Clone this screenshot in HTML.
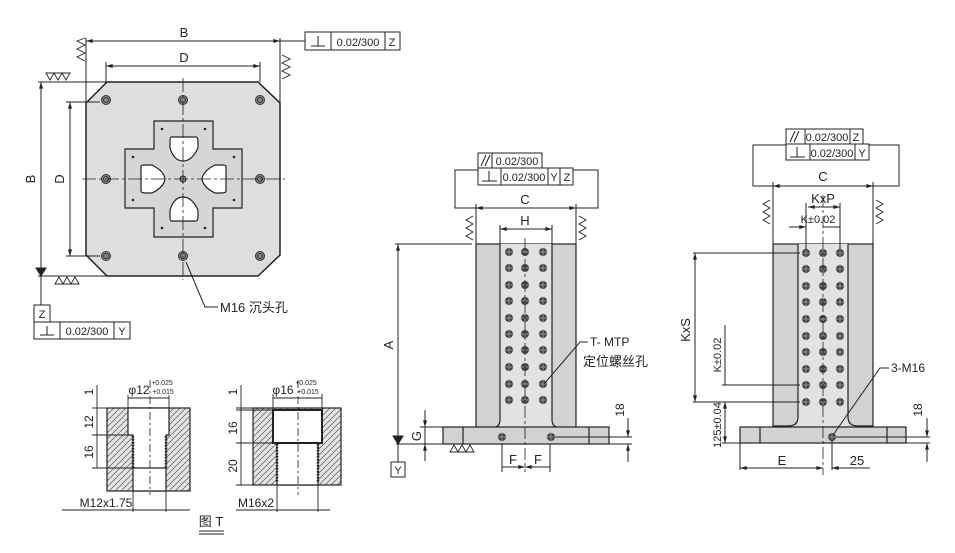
<!DOCTYPE html>
<html><head><meta charset="utf-8"><style>
html,body{margin:0;padding:0;background:#fff;}
svg{display:block;font-family:"Liberation Sans","Noto Sans CJK SC",sans-serif;}
</style></head><body>
<svg width="955" height="553" viewBox="0 0 955 553" xmlns="http://www.w3.org/2000/svg">
<defs>
<marker id="a" viewBox="0 0 10 6" refX="10" refY="3" markerWidth="8" markerHeight="4" orient="auto-start-reverse"><path d="M0,0L10,3L0,6z" fill="#222"/></marker>
<pattern id="h" width="6" height="6" patternUnits="userSpaceOnUse"><rect width="6" height="6" fill="#e4e4e4"/><path d="M-1,7L7,-1M-1,1L1,-1M5,7L7,5" stroke="#555" stroke-width="0.7"/></pattern>
<g id="hole"><circle r="4.5" fill="#888" stroke="#333" stroke-width="1"/><circle r="2.5" fill="none" stroke="#222" stroke-width="0.8"/></g>
<g id="dh"><circle r="4" fill="#444"/><line x1="-5" y1="0" x2="5" y2="0" stroke="#bbb" stroke-width="0.6"/><line x1="0" y1="-5" x2="0" y2="5" stroke="#bbb" stroke-width="0.6"/></g>
</defs>
<g stroke="#222" fill="none" stroke-width="1" font-size="12" >

<!-- ===== Top-left plate ===== -->
<path d="M107,82H258L280,103V255L258,276H107L86,255V103Z" fill="#dedede" stroke-width="1.5"/>
<path d="M154,121H213V149H242V208H213V237H154V208H125V149H154Z" fill="#d6d6d6" stroke-width="1.2"/>
<g fill="#fff" stroke-width="1.2">
<path d="M171,137H196Q198,137 198,142V148Q192,161 183,161Q174,161 170,148V142Q170,137 171,137Z"/>
<path d="M171,221H196Q198,221 198,216V210Q192,197 183,197Q174,197 170,210V216Q170,221 171,221Z"/>
<path d="M141,166V191Q141,193 146,193H152Q164,187 165,179Q164,171 152,165H146Q141,165 141,166Z"/>
<path d="M226,166V191Q226,193 221,193H215Q203,187 202,179Q203,171 215,165H221Q226,165 226,166Z"/>
</g>
<g fill="#222" stroke="none">
<circle cx="162" cy="129" r="1.3"/><circle cx="205" cy="129" r="1.3"/><circle cx="162" cy="228" r="1.3"/><circle cx="205" cy="228" r="1.3"/>
<circle cx="133" cy="157" r="1.3"/><circle cx="234" cy="157" r="1.3"/><circle cx="133" cy="200" r="1.3"/><circle cx="234" cy="200" r="1.3"/>
</g>
<circle cx="183" cy="179" r="3" fill="#999"/>
<use href="#hole" x="106" y="100"/><use href="#hole" x="183" y="100"/><use href="#hole" x="260" y="100"/>
<use href="#hole" x="106" y="179"/><use href="#hole" x="260" y="179"/>
<use href="#hole" x="106" y="256"/><use href="#hole" x="183" y="256"/><use href="#hole" x="260" y="256"/>
<line x1="183" y1="78" x2="183" y2="280" stroke-dasharray="14,3,3,3" stroke-width="0.8"/>
<line x1="82" y1="179" x2="285" y2="179" stroke-dasharray="14,3,3,3" stroke-width="0.8"/>
<line x1="86" y1="41" x2="280" y2="41" marker-start="url(#a)" marker-end="url(#a)"/>
<line x1="86" y1="38" x2="86" y2="103"/><line x1="280" y1="38" x2="280" y2="103"/>
<line x1="106" y1="66" x2="260" y2="66" marker-start="url(#a)" marker-end="url(#a)"/>
<line x1="106" y1="62" x2="106" y2="82"/><line x1="260" y1="62" x2="260" y2="82"/>
<line x1="41" y1="82" x2="41" y2="276" marker-start="url(#a)"/>
<line x1="38" y1="82" x2="107" y2="82"/><line x1="38" y1="276" x2="107" y2="276"/>
<line x1="70" y1="102" x2="70" y2="256" marker-start="url(#a)" marker-end="url(#a)"/>
<line x1="66" y1="102" x2="100" y2="102"/><line x1="66" y1="256" x2="100" y2="256"/>
<path d="M41,276L36,268H46Z" fill="#222"/>
<line x1="41" y1="276" x2="41" y2="305"/>
<g stroke-width="0.9">
<path d="M85,38L77,41L85,45L77,49L85,53L77,57L85,61"/>
<path d="M282,55L290,59L282,63L290,67L282,71L290,75L282,79"/>
<path d="M46,73L50,80L54,73L58,80L62,73L66,80L70,73Z"/>
<path d="M55,284L59,277L63,284L67,277L71,284L75,277L79,284Z"/>
</g>
<line x1="280" y1="41" x2="305" y2="41"/>
<rect x="305" y="32" width="95" height="18"/><line x1="331" y1="32" x2="331" y2="50"/><line x1="385" y1="32" x2="385" y2="50"/>
<path d="M311,46H325M318,46V36"/>
<rect x="34" y="305" width="16" height="17"/>
<rect x="34" y="322" width="96" height="17"/><line x1="60" y1="322" x2="60" y2="339"/><line x1="114" y1="322" x2="114" y2="339"/>
<path d="M40,335H54M47,335V326"/>
<path d="M186,262L205,307H218"/>
</g>
<g fill="#222" font-size="13" text-anchor="middle">
<text x="184" y="37">B</text><text x="184" y="62">D</text>
<text transform="translate(35,179) rotate(-90)">B</text>
<text transform="translate(64,179) rotate(-90)">D</text>
<text x="358" y="46" font-size="11">0.02/300</text><text x="392" y="46" font-size="11">Z</text>
<text x="42" y="318" font-size="11">Z</text>
<text x="87" y="335" font-size="11">0.02/300</text><text x="122" y="335" font-size="11">Y</text>
<text x="220" y="312" text-anchor="start">M16 沉头孔</text>
</g>

<!-- ===== Middle tower ===== -->
<g stroke="#222" fill="none" stroke-width="1.2">
<rect x="476" y="244" width="100" height="186" fill="#d2d2d2"/>
<rect x="500" y="244" width="52" height="184" fill="#e2e2e2" stroke="none"/>
<path d="M500,244V420Q500,428 490,428H476M552,244V420Q552,428 562,428H576"/>
<rect x="443" y="427" width="166" height="17" fill="#d2d2d2"/>
<line x1="463" y1="427" x2="463" y2="444"/><line x1="589" y1="427" x2="589" y2="444"/>
</g>
<g>
<use href="#dh" x="509" y="252"/><use href="#dh" x="525" y="252"/><use href="#dh" x="543" y="252"/>
<use href="#dh" x="509" y="268"/><use href="#dh" x="525" y="268"/><use href="#dh" x="543" y="268"/>
<use href="#dh" x="509" y="285"/><use href="#dh" x="525" y="285"/><use href="#dh" x="543" y="285"/>
<use href="#dh" x="509" y="301"/><use href="#dh" x="525" y="301"/><use href="#dh" x="543" y="301"/>
<use href="#dh" x="509" y="318"/><use href="#dh" x="525" y="318"/><use href="#dh" x="543" y="318"/>
<use href="#dh" x="509" y="334"/><use href="#dh" x="525" y="334"/><use href="#dh" x="543" y="334"/>
<use href="#dh" x="509" y="350"/><use href="#dh" x="525" y="350"/><use href="#dh" x="543" y="350"/>
<use href="#dh" x="509" y="367"/><use href="#dh" x="525" y="367"/><use href="#dh" x="543" y="367"/>
<use href="#dh" x="509" y="384"/><use href="#dh" x="525" y="384"/><use href="#dh" x="543" y="384"/>
<use href="#dh" x="509" y="400"/><use href="#dh" x="525" y="400"/><use href="#dh" x="543" y="400"/>
<use href="#dh" x="502" y="437"/><use href="#dh" x="551" y="437"/>
</g>
<g stroke="#222" fill="none" stroke-width="1">
<line x1="525" y1="238" x2="525" y2="472" stroke-dasharray="12,3,3,3" stroke-width="0.8"/>
<rect x="478" y="153" width="64" height="15"/><line x1="492" y1="153" x2="492" y2="168"/>
<rect x="478" y="168" width="95" height="17"/><line x1="501" y1="168" x2="501" y2="185"/><line x1="548" y1="168" x2="548" y2="185"/><line x1="560" y1="168" x2="560" y2="185"/>
<path d="M481,166L486,155M485,166L490,155"/>
<path d="M482,181H497M489,181V171"/>
<path d="M478,170H455V208H476M573,170H598V208H576"/>
<line x1="476" y1="208" x2="576" y2="208" marker-start="url(#a)" marker-end="url(#a)"/>
<line x1="476" y1="204" x2="476" y2="244"/><line x1="576" y1="204" x2="576" y2="244"/>
<line x1="500" y1="229" x2="552" y2="229" marker-start="url(#a)" marker-end="url(#a)"/>
<line x1="500" y1="225" x2="500" y2="244"/><line x1="552" y1="225" x2="552" y2="244"/>
<g stroke-width="0.9">
<path d="M473,216L466,220L473,224L466,228L473,232L466,236L473,240"/>
<path d="M579,216L586,220L579,224L586,228L579,232L586,236L579,240"/>
<path d="M450,452L454,445L458,452L462,445L466,452L470,445L474,452Z"/>
</g>
<line x1="395" y1="244" x2="472" y2="244"/>
<line x1="398" y1="244" x2="398" y2="440" marker-start="url(#a)"/>
<path d="M398,444L393,436H403Z" fill="#222"/>
<line x1="398" y1="444" x2="398" y2="462"/>
<rect x="391" y="462" width="14" height="15"/>
<line x1="396" y1="444" x2="443" y2="444"/>
<line x1="420" y1="427" x2="443" y2="427"/>
<line x1="425" y1="410" x2="425" y2="427" marker-end="url(#a)"/><line x1="425" y1="427" x2="425" y2="444"/>
<line x1="425" y1="461" x2="425" y2="444" marker-end="url(#a)"/>
<line x1="502" y1="444" x2="502" y2="472"/><line x1="550" y1="444" x2="550" y2="472"/>
<line x1="502" y1="467" x2="525" y2="467" marker-end="url(#a)"/><line x1="550" y1="467" x2="525" y2="467" marker-end="url(#a)"/>
<line x1="555" y1="437" x2="632" y2="437"/><line x1="609" y1="444" x2="632" y2="444"/>
<line x1="628" y1="418" x2="628" y2="437" marker-end="url(#a)"/><line x1="628" y1="462" x2="628" y2="444" marker-end="url(#a)"/>
<path d="M544,384L580,342H588"/>
</g>
<g fill="#222" text-anchor="middle" font-size="13">
<text x="517" y="165" font-size="11">0.02/300</text>
<text x="524" y="181" font-size="11">0.02/300</text><text x="554" y="181" font-size="11">Y</text><text x="567" y="181" font-size="11">Z</text>
<text x="525" y="204">C</text><text x="525" y="225">H</text>
<text transform="translate(393,345) rotate(-90)">A</text>
<text transform="translate(421,436) rotate(-90)">G</text>
<text x="398" y="474" font-size="11">Y</text>
<text x="513" y="464">F</text><text x="538" y="464">F</text>
<text transform="translate(624,410) rotate(-90)" font-size="12">18</text>
<text x="590" y="346" text-anchor="start" font-size="12">T- MTP</text>
<text x="583" y="366" text-anchor="start">定位螺丝孔</text>
</g>

<!-- ===== Right tower ===== -->
<g stroke="#222" fill="none" stroke-width="1.2">
<rect x="773" y="244" width="100" height="185" fill="#d2d2d2"/>
<rect x="798" y="244" width="50" height="182" fill="#e2e2e2" stroke="none"/>
<path d="M798,244V417Q798,426 788,426H773M848,244V417Q848,426 858,426H873"/>
<rect x="740" y="427" width="166" height="16" fill="#d2d2d2"/>
<line x1="760" y1="427" x2="760" y2="443"/><line x1="887" y1="427" x2="887" y2="443"/>
</g>
<g>
<use href="#dh" x="806" y="253"/><use href="#dh" x="823" y="253"/><use href="#dh" x="840" y="253"/>
<use href="#dh" x="806" y="269"/><use href="#dh" x="823" y="269"/><use href="#dh" x="840" y="269"/>
<use href="#dh" x="806" y="286"/><use href="#dh" x="823" y="286"/><use href="#dh" x="840" y="286"/>
<use href="#dh" x="806" y="302"/><use href="#dh" x="823" y="302"/><use href="#dh" x="840" y="302"/>
<use href="#dh" x="806" y="319"/><use href="#dh" x="823" y="319"/><use href="#dh" x="840" y="319"/>
<use href="#dh" x="806" y="336"/><use href="#dh" x="823" y="336"/><use href="#dh" x="840" y="336"/>
<use href="#dh" x="806" y="352"/><use href="#dh" x="823" y="352"/><use href="#dh" x="840" y="352"/>
<use href="#dh" x="806" y="369"/><use href="#dh" x="823" y="369"/><use href="#dh" x="840" y="369"/>
<use href="#dh" x="806" y="385"/><use href="#dh" x="823" y="385"/><use href="#dh" x="840" y="385"/>
<use href="#dh" x="806" y="402"/><use href="#dh" x="823" y="402"/><use href="#dh" x="840" y="402"/>
<use href="#dh" x="832" y="437"/>
</g>
<g stroke="#222" fill="none" stroke-width="1">
<line x1="823" y1="195" x2="823" y2="475" stroke-dasharray="12,3,3,3" stroke-width="0.8"/>
<rect x="786" y="129" width="77" height="15"/><line x1="805" y1="129" x2="805" y2="144"/><line x1="850" y1="129" x2="850" y2="144"/>
<rect x="786" y="144" width="83" height="16"/><line x1="810" y1="144" x2="810" y2="160"/><line x1="855" y1="144" x2="855" y2="160"/>
<path d="M790,142L795,131M794,142L799,131"/>
<path d="M790,157H805M797,157V147"/>
<path d="M786,145H753V186H773M869,145H899V186H873"/>
<line x1="773" y1="186" x2="873" y2="186" marker-start="url(#a)" marker-end="url(#a)"/>
<line x1="773" y1="182" x2="773" y2="244"/><line x1="873" y1="182" x2="873" y2="244"/>
<line x1="808" y1="207" x2="840" y2="207" marker-start="url(#a)" marker-end="url(#a)"/>
<line x1="806" y1="203" x2="806" y2="250"/><line x1="840" y1="203" x2="840" y2="250"/>
<line x1="789" y1="227" x2="806" y2="227" marker-end="url(#a)"/><line x1="840" y1="227" x2="823" y2="227"/>
<g stroke-width="0.9">
<path d="M770,200L763,204L770,208L763,212L770,216L763,220L770,224"/>
<path d="M876,200L883,204L876,208L883,212L876,216L883,220L876,224"/>
</g>
<line x1="693" y1="253" x2="800" y2="253"/><line x1="693" y1="402" x2="800" y2="402"/>
<line x1="695" y1="253" x2="695" y2="402" marker-start="url(#a)" marker-end="url(#a)"/>
<line x1="722" y1="385" x2="800" y2="385"/>
<line x1="725" y1="325" x2="725" y2="385" /><line x1="725" y1="402" x2="725" y2="443" marker-start="url(#a)" marker-end="url(#a)"/>
<line x1="722" y1="443" x2="740" y2="443"/>
<line x1="740" y1="443" x2="740" y2="470"/><line x1="832" y1="440" x2="832" y2="470"/>
<line x1="740" y1="468" x2="823" y2="468" marker-start="url(#a)" marker-end="url(#a)"/>
<line x1="870" y1="468" x2="832" y2="468" marker-end="url(#a)"/>
<line x1="836" y1="437" x2="930" y2="437"/><line x1="906" y1="443" x2="930" y2="443"/>
<line x1="927" y1="418" x2="927" y2="437" marker-end="url(#a)"/><line x1="927" y1="462" x2="927" y2="443" marker-end="url(#a)"/>
<path d="M833,435L880,368H889"/>
</g>
<g fill="#222" text-anchor="middle" font-size="13">
<text x="827" y="141" font-size="11">0.02/300</text><text x="856" y="141" font-size="11">Z</text>
<text x="832" y="157" font-size="11">0.02/300</text><text x="862" y="157" font-size="11">Y</text>
<text x="823" y="181">C</text>
<text x="823" y="203">KxP</text>
<text x="818" y="223" font-size="11">K±0.02</text>
<text transform="translate(690,330) rotate(-90)">KxS</text>
<text transform="translate(721,355) rotate(-90)" font-size="11">K±0.02</text>
<text transform="translate(721,425) rotate(-90)" font-size="11">125±0.04</text>
<text x="782" y="465">E</text><text x="857" y="465">25</text>
<text transform="translate(922,410) rotate(-90)" font-size="12">18</text>
<text x="891" y="372" text-anchor="start" font-size="12">3-M16</text>
</g>

<!-- ===== Bottom detail left ===== -->
<g stroke="#222" stroke-width="1.2">
<rect x="107" y="408" width="83" height="83" fill="url(#h)"/>
<path d="M128,408H169V435H166V491H133V435H128Z" fill="#fff"/>
<path d="M133,436V468M166,436V468" stroke-dasharray="1.5,1.5" stroke-width="2.5"/>
<line x1="133" y1="468" x2="166" y2="468"/>
<line x1="150" y1="380" x2="150" y2="495" stroke-dasharray="8,3,2,3" stroke-width="0.8"/>
</g>
<g stroke="#222" fill="none" stroke-width="0.9">
<line x1="92" y1="408" x2="107" y2="408"/><line x1="92" y1="435" x2="128" y2="435"/><line x1="92" y1="468" x2="133" y2="468"/>
<line x1="97" y1="385" x2="97" y2="468"/>
<line x1="128" y1="395" x2="128" y2="408"/><line x1="169" y1="395" x2="169" y2="408"/><line x1="128" y1="398" x2="169" y2="398"/>
<line x1="133" y1="491" x2="133" y2="512"/><line x1="166" y1="491" x2="166" y2="512"/>
<line x1="62" y1="510" x2="190" y2="510"/>
</g>
<g fill="#222" font-size="12" text-anchor="middle">
<text transform="translate(93,392) rotate(-90)">1</text>
<text transform="translate(93,422) rotate(-90)">12</text>
<text transform="translate(93,452) rotate(-90)">16</text>
<text x="139" y="394">φ12</text>
<text x="162" y="385" font-size="7">+0.025</text><text x="163" y="394" font-size="7">+0.015</text>
<text x="106" y="507">M12x1.75</text>
</g>

<!-- ===== Bottom detail right ===== -->
<g stroke="#222" stroke-width="1.2">
<rect x="253" y="408" width="88" height="77" fill="url(#h)"/>
<path d="M273,410H322V443H318V485H277V443H273Z" fill="#fff"/>
<rect x="273" y="410" width="49" height="33" fill="#fff" stroke-width="2"/>
<path d="M277,444V483M318,444V483" stroke-dasharray="1.5,1.5" stroke-width="2.5"/>
<line x1="298" y1="380" x2="298" y2="495" stroke-dasharray="8,3,2,3" stroke-width="0.8"/>
</g>
<g stroke="#222" fill="none" stroke-width="0.9">
<line x1="236" y1="408" x2="253" y2="408"/><line x1="236" y1="410" x2="273" y2="410"/><line x1="236" y1="443" x2="273" y2="443"/><line x1="236" y1="485" x2="277" y2="485"/>
<line x1="241" y1="385" x2="241" y2="485"/>
<line x1="273" y1="394" x2="273" y2="410"/><line x1="322" y1="394" x2="322" y2="410"/><line x1="273" y1="398" x2="322" y2="398"/>
<line x1="277" y1="485" x2="277" y2="512"/><line x1="318" y1="485" x2="318" y2="512"/>
<line x1="236" y1="510" x2="330" y2="510"/>
</g>
<g fill="#222" font-size="12" text-anchor="middle">
<text transform="translate(237,392) rotate(-90)">1</text>
<text transform="translate(237,428) rotate(-90)">16</text>
<text transform="translate(237,466) rotate(-90)">20</text>
<text x="283" y="394">φ16</text>
<text x="306" y="385" font-size="7">+0.025</text><text x="308" y="394" font-size="7">+0.015</text>
<text x="256" y="507">M16x2</text>
<text x="211" y="526" font-size="13">图 T</text>
</g>
<line x1="199" y1="531" x2="224" y2="531" stroke="#222"/><line x1="199" y1="534" x2="224" y2="534" stroke="#222"/>
</svg>
</body></html>
